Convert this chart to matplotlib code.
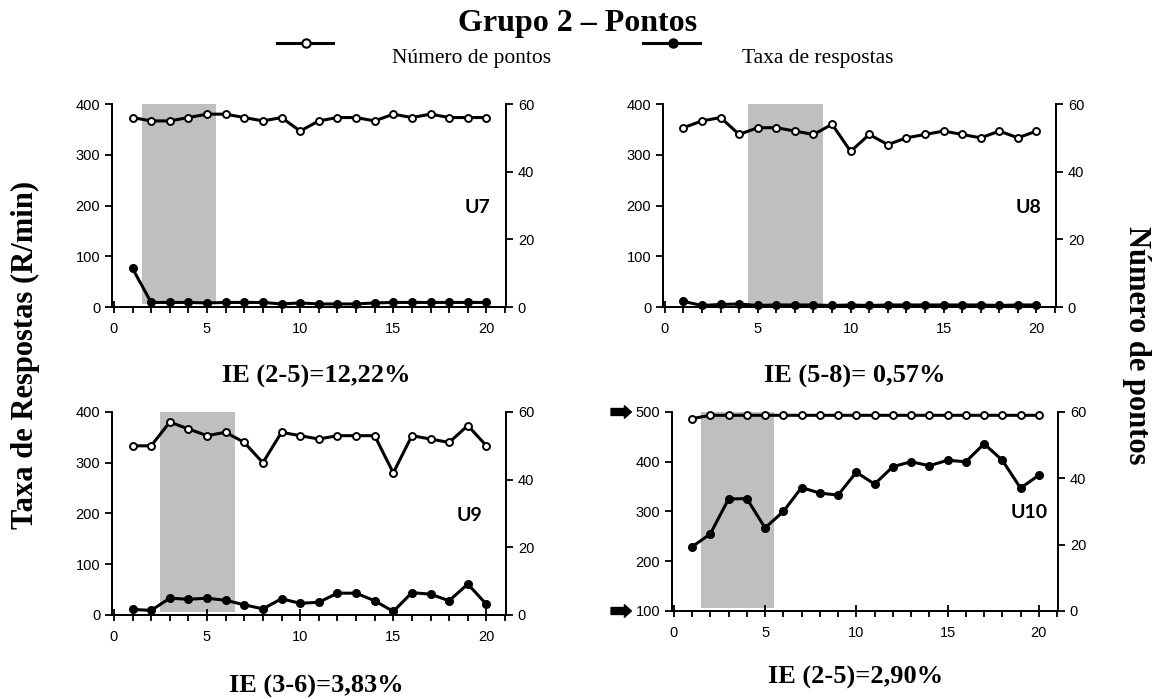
import matplotlib.pyplot as plt
from matplotlib.ticker import MultipleLocator

# sessões 1-20
sessoes = list(range(1, 21))

# Taxa de respostas (R/min) - eixo esquerdo
taxa_u7 = [76, 9, 9, 9, 8, 9, 9, 9, 6, 8, 6, 6, 6, 8, 9, 9, 9, 9, 9, 9]
taxa_u8 = [11, 3, 5, 6, 3, 4, 4, 4, 3, 4, 3, 4, 4, 4, 4, 4, 4, 3, 4, 4]
taxa_u9 = [11, 9, 33, 31, 33, 29, 20, 12, 32, 23, 25, 43, 43, 28, 7, 44, 41, 28, 61, 21]
taxa_u10 = [229, 255, 325, 326, 267, 300, 348, 337, 333, 379, 355, 390, 400, 392,
            403, 400, 436, 403, 347, 373]

# Número de pontos - eixo direito
pontos_u7 = [56, 55, 55, 56, 57, 57, 56, 55, 56, 52, 55, 56, 56, 55, 57, 56, 57, 56, 56, 56]
pontos_u8 = [53, 55, 56, 51, 53, 53, 52, 51, 54, 46, 51, 48, 50, 51, 52, 51, 50, 52, 50, 52]
pontos_u9 = [50, 50, 57, 55, 53, 54, 51, 45, 54, 53, 52, 53, 53, 53, 42, 53, 52, 51, 56, 50]
pontos_u10 = [58, 59, 59, 59, 59, 59, 59, 59, 59, 59, 59, 59, 59, 59, 59, 59, 59, 59, 59, 59]

paineis = ['U7', 'U8', 'U9', 'U10']
ie_textos = ['IE (2-5)=12,22%', 'IE (5-8)= 0,57%', 'IE (3-6)=3,83%', 'IE (2-5)=2,90%']
faixas = [(1.5, 5.5), (4.5, 8.5), (2.5, 6.5), (1.5, 5.5)]
taxas = [taxa_u7, taxa_u8, taxa_u9, taxa_u10]
pontos = [pontos_u7, pontos_u8, pontos_u9, pontos_u10]
ylims = [(0, 400), (0, 400), (0, 400), (100, 500)]

serif = ['Liberation Serif', 'DejaVu Serif']
plt.rcParams['font.family'] = ['Liberation Sans', 'DejaVu Sans']

W, H = 1156, 699
fig = plt.figure(figsize=(W / 100, H / 100), dpi=100)

# posições dos eixos [left, bottom, width, height]
posicoes = [[0.0969, 0.5608, 0.3408, 0.2904],
            [0.5735, 0.5608, 0.3400, 0.2904],
            [0.0969, 0.1202, 0.3408, 0.2904],
            [0.5813, 0.1259, 0.3339, 0.2847]]
u_pos = [(0.96, 0.49), (0.963, 0.49), (0.941, 0.488), (0.974, 0.494)]
ie_pos = [(316, 376), (855, 376), (316, 686), (856, 677)]

for i in range(4):
    ax = fig.add_axes(posicoes[i])
    ax2 = ax.twinx()
    y0, y1 = ylims[i]
    a, b = faixas[i]
    ax.fill_between([a, b], y0 + 6, y1, color='#bfbfbf', lw=0, zorder=1)
    ax.plot(sessoes, taxas[i], color='black', lw=2.2, marker='o', ms=5.5,
            mfc='black', mec='black', zorder=3, clip_on=False)
    ax2.plot(sessoes, pontos[i], color='black', lw=2.2, marker='o', ms=5,
             mfc='white', mec='black', mew=1.4, zorder=3, clip_on=False)

    ax.set_xlim(-0.1, 21.05)
    ax.set_ylim(y0, y1)
    ax2.set_ylim(0, 60)
    ax.xaxis.set_major_locator(MultipleLocator(5))
    ax.xaxis.set_minor_locator(MultipleLocator(1))
    ax.yaxis.set_major_locator(MultipleLocator(100))
    ax2.yaxis.set_major_locator(MultipleLocator(20))

    ax.spines['top'].set_visible(False)
    ax2.spines['top'].set_visible(False)
    for s in list(ax.spines.values()) + list(ax2.spines.values()):
        s.set_linewidth(1.3)

    ax.tick_params(axis='x', which='major', direction='inout', length=8, width=1.3,
                   labelsize=10.5, pad=7)
    ax.tick_params(axis='x', which='minor', direction='out', length=4, width=1.3)
    ax.tick_params(axis='y', direction='out', length=5, width=1.3, labelsize=10.5)
    ax2.tick_params(axis='y', direction='out', length=5, width=1.3, labelsize=10.5)

    ax.text(u_pos[i][0], u_pos[i][1], paineis[i], transform=ax.transAxes,
            ha='right', va='center', fontsize=14, fontweight='bold',
            family=['Lato', 'DejaVu Sans'])

    fig.text(ie_pos[i][0] / W, 1 - ie_pos[i][1] / H, ie_textos[i],
             ha='center', va='center', fontsize=19, fontweight='bold', family=serif)

    if i == 3:
        for yv in (500, 100):
            ax.annotate('', xy=(-0.098, yv), xytext=(-0.165, yv),
                        xycoords=('axes fraction', 'data'),
                        textcoords=('axes fraction', 'data'),
                        arrowprops=dict(arrowstyle='simple,head_length=0.5,head_width=0.9,tail_width=0.5',
                                        color='black'),
                        annotation_clip=False)

# título e legenda
fig.text(0.5, 1 - 24 / H, 'Grupo 2 – Pontos', ha='center', va='center',
         fontsize=23, fontweight='bold', family=serif)

y_leg = 1 - 43 / H
fig.lines.append(plt.Line2D([277 / W, 333 / W], [y_leg] * 2,
                            transform=fig.transFigure, color='black', lw=2.2))
fig.lines.append(plt.Line2D([306 / W], [y_leg], transform=fig.transFigure,
                            marker='o', ms=6, mfc='white', mec='black', mew=1.5))
fig.lines.append(plt.Line2D([643 / W, 700 / W], [y_leg] * 2,
                            transform=fig.transFigure, color='black', lw=2.2))
fig.lines.append(plt.Line2D([673 / W], [y_leg], transform=fig.transFigure,
                            marker='o', ms=6.5, mfc='black', mec='black'))
fig.text(392 / W, 1 - 58 / H, 'Número de pontos', ha='left', va='center',
         fontsize=15.5, family=serif)
fig.text(742 / W, 1 - 58 / H, 'Taxa de respostas', ha='left', va='center',
         fontsize=15.5, family=serif)

# rótulos dos eixos
fig.text(25 / W, 1 - 355 / H, 'Taxa de Respostas (R/min)', rotation=90, ha='center',
         va='center', fontsize=22, fontweight='bold', family=serif)
fig.text(1136 / W, 1 - 345 / H, 'Número de pontos', rotation=-90, ha='center',
         va='center', fontsize=22, fontweight='bold', family=serif)

fig.savefig('out.png', dpi=100, facecolor='white')
